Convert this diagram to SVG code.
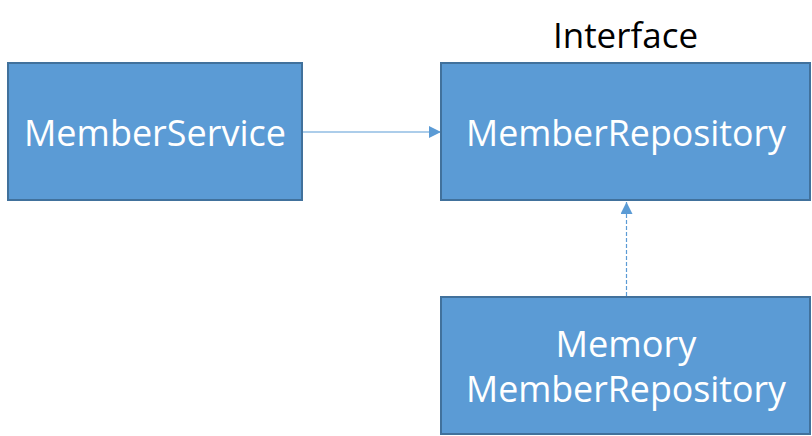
<svg xmlns="http://www.w3.org/2000/svg" width="812" height="436" viewBox="0 0 812 436">
<style>
.box{fill:#5B9BD5;stroke:#41719C;stroke-width:2}
.lbl{font-family:"Open Sans","Noto Sans","Liberation Sans",sans-serif;font-size:37px;fill:#FFFFFF;text-anchor:middle}
.ttl{font-family:"Open Sans","Noto Sans","Liberation Sans",sans-serif;font-size:34px;fill:#000000;text-anchor:middle}
.conn{stroke:#5B9BD5;stroke-width:1.2;fill:none}
</style>
<defs>
<marker id="tri" markerWidth="12" markerHeight="12" refX="12" refY="6" orient="auto" markerUnits="userSpaceOnUse">
<path d="M0,0 L12,6 L0,12 Z" fill="#5B9BD5"/>
</marker>
</defs>
<rect width="812" height="436" fill="#FFFFFF"/>
<g id="connectors">
<line class="conn" x1="302" y1="132" x2="441" y2="132" marker-end="url(#tri)"/>
<line class="conn" x1="626.5" y1="296" x2="626.5" y2="202" stroke-dasharray="4,2" marker-end="url(#tri)"/>
</g>
<g id="member-service">
<rect class="box" x="8" y="63" width="294" height="137"/>
<text class="lbl" x="155" y="146" textLength="262" lengthAdjust="spacingAndGlyphs">MemberService</text>
</g>
<g id="member-repository">
<text class="ttl" x="625.5" y="48" textLength="145" lengthAdjust="spacingAndGlyphs">Interface</text>
<rect class="box" x="441" y="63" width="369" height="137"/>
<text class="lbl" x="626" y="146" textLength="320" lengthAdjust="spacingAndGlyphs">MemberRepository</text>
</g>
<g id="memory-member-repository">
<rect class="box" x="441" y="297" width="369" height="137"/>
<text class="lbl"><tspan x="626" y="357" textLength="141" lengthAdjust="spacingAndGlyphs">Memory</tspan><tspan x="626" y="402" textLength="320" lengthAdjust="spacingAndGlyphs">MemberRepository</tspan></text>
</g>
</svg>
